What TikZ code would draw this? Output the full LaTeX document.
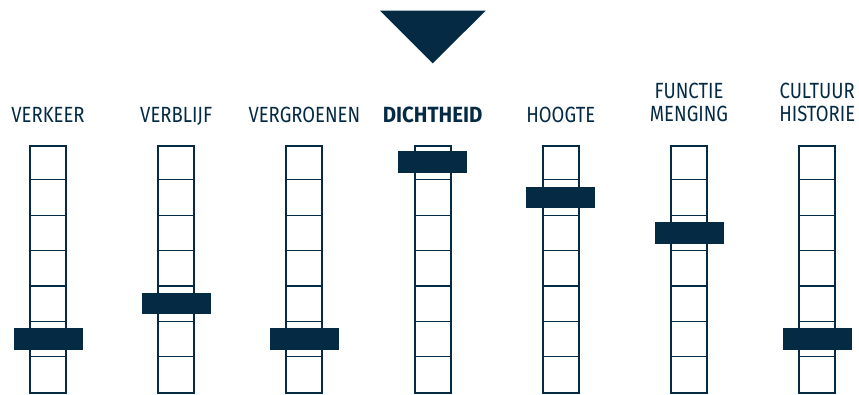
\documentclass[tikz,border=0pt]{standalone}
\usepackage{fontspec}
\setmainfont{Fira Sans}[FakeStretch=0.84, BoldFeatures={FakeStretch=0.93}]
\usetikzlibrary{calc}
\definecolor{navy}{RGB}{4,42,68}
\begin{document}
\begin{tikzpicture}[x=1pt,y=-1pt,
  lbl/.style={font=\fontsize{22}{23.4}\selectfont, text=navy, inner sep=0pt, align=center},
  track/.style={draw=navy, line width=2pt, minimum width=36pt, minimum height=247.5pt, inner sep=0pt},
  knob/.style={fill=navy, draw=none, minimum width=69pt, minimum height=21.5pt, inner sep=0pt},
  tick/.style={draw=navy, line width=1.2pt}]
\useasboundingbox (0,0) rectangle (859,394);
% triangle pointer
\fill[navy] (380,10.7) -- (485.7,10.7) -- (432.7,63.3) -- cycle;
% labels
\node[lbl, anchor=base] (l1) at (48,122) {VERKEER};
\node[lbl, anchor=base] (l2) at (176.2,122) {VERBLIJF};
\node[lbl, anchor=base] (l3) at (304.4,122) {VERGROENEN};
\node[lbl, anchor=base, font=\fontsize{22}{23.4}\selectfont\bfseries] (l4) at (432.6,122) {DICHTHEID};
\node[lbl, anchor=base] (l5) at (560.8,122) {HOOGTE};
\node[lbl, anchor=base] (l6) at (689,121.7) {FUNCTIE\\MENGING};
\node[lbl, anchor=base] (l7) at (817.2,121.7) {CULTUUR\\HISTORIE};
% tracks
\foreach \i/\k in {1/5,2/4,3/5,4/0,5/1,6/2,7/5}{
  \pgfmathsetmacro{\cx}{48+(\i-1)*128.2}
  \node[track] (t\i) at (\cx,269.25) {};
  \foreach \j in {1,...,6}{
    \draw[tick] ($(t\i.north west)+(0,\j*35.357)$) -- ($(t\i.north east)+(0,\j*35.357)$);
  }
  \node[knob] (k\i) at ($(t\i.north)+(0,\k*35.357+17.68)$) {};
}
\end{tikzpicture}
\end{document}
